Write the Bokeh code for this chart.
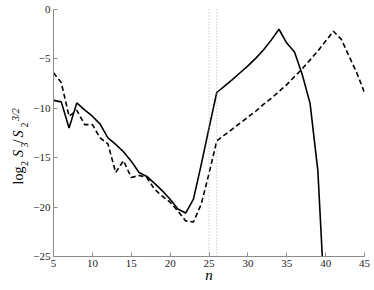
import math
from bokeh.plotting import figure
from bokeh.layouts import row
from bokeh.models import Range1d, Span, FixedTicker
from bokeh.core.properties import value
from bokeh.embed import file_html
from bokeh.resources import INLINE

# ---- data ----
n_solid = list(range(5, 41))
solid = [-9.2, -9.35, -12.0, -9.45, -10.15, -10.8, -11.6, -13.0, -13.65, -14.4,
         -15.35, -16.5, -16.9, -17.6, -18.35, -19.2, -20.2, -20.6, -19.2, -15.7,
         -12.0, -8.4, -7.75, -7.1, -6.4, -5.7, -4.95, -4.1, -3.1, -2.0,
         -3.4, -4.3, -6.6, -9.5, -16.3, -31.5]
n_dashed = list(range(5, 46))
dashed = [-6.4, -7.4, -10.8, -10.2, -11.65, -11.65, -13.0, -13.6, -16.5, -15.3,
          -17.0, -16.8, -17.0, -18.2, -18.9, -19.5, -20.4, -21.4, -21.5, -19.7,
          -16.6, -13.3, -12.7, -12.1, -11.5, -10.9, -10.3, -9.6, -9.0, -8.3,
          -7.6, -6.8, -6.0, -5.1, -4.2, -3.2, -2.2, -3.0, -4.7, -6.4, -8.4]
vlines = [25, 26]
x_ticks = [5, 10, 15, 20, 25, 30, 35, 40, 45]
y_ticks = [0, -5, -10, -15, -20, -25]

SERIF = "Liberation Serif"
W, H = 374, 290
LAB_W = 30

# ---- main plot ----
p = figure(width=W - LAB_W, height=H, output_backend="svg", toolbar_location=None,
           x_range=Range1d(5, 45), y_range=Range1d(-25, 0),
           min_border_left=22, min_border_right=10, min_border_top=9,
           min_border_bottom=34)
p.outline_line_color = None
p.grid.visible = False

for ax in (p.xaxis[0], p.yaxis[0]):
    ax.axis_line_color = "#8a8a8a"
    ax.major_tick_line_color = "#8a8a8a"
    ax.major_tick_in = 4
    ax.major_tick_out = 0
    ax.minor_tick_line_color = None
    ax.major_label_text_font = SERIF
    ax.major_label_text_font_size = "11px"
    ax.major_label_text_color = "#222222"
    ax.major_label_standoff = 3
p.xaxis.ticker = FixedTicker(ticks=x_ticks)
p.yaxis.ticker = FixedTicker(ticks=y_ticks)
p.yaxis.major_label_overrides = {t: ("\u2212" + str(-t) if t < 0 else str(t)) for t in y_ticks}
p.xaxis.axis_label = "n"
p.xaxis.axis_label_text_font = SERIF
p.xaxis.axis_label_text_font_style = "italic"
p.xaxis.axis_label_text_font_size = "15px"
p.xaxis.axis_label_text_color = "black"
p.xaxis.axis_label_standoff = -3

for v in vlines:
    p.add_layout(Span(location=v, dimension="height", line_color="#b0b0b0",
                      line_dash="1 2", line_width=1))

p.line(n_solid, solid, line_color="black", line_width=1.6)
p.line(n_dashed, dashed, line_color="black", line_width=1.6, line_dash="5 3")

# ---- y axis title panel: log_2 S_3 / S_2^{3/2} ----
lab = figure(width=LAB_W, height=H, output_backend="svg", toolbar_location=None,
             x_range=Range1d(0, LAB_W), y_range=p.y_range,
             x_axis_location=None, y_axis_location=None,
             min_border=0)
lab.outline_line_color = None
lab.grid.visible = False

TOP, BOT = 9.0, 256.0   # page y of the frame's top and bottom


def yd(page_y):
    return -25.0 * (page_y - TOP) / (BOT - TOP)


pieces = [
    ("log", 18.3, 184, "14px", "normal"),
    ("2", 24, 165.5, "10px", "normal"),
    ("S", 18.3, 156.5, "14px", "italic"),
    ("3", 24, 147, "10px", "normal"),
    ("/", 18.3, 143, "14px", "normal"),
    ("S", 18.3, 137, "14px", "italic"),
    ("2", 24, 127, "10px", "normal"),
    ("3/2", 15, 120.5, "10px", "italic"),
]
for txt, x, py, size, style in pieces:
    lab.text(x=[x], y=[yd(py)], text=[txt], angle=math.pi / 2,
             text_align="left", text_baseline="alphabetic",
             text_font=value(SERIF), text_font_size=value(size),
             text_font_style=style, text_color="black")

layout = row(lab, p, spacing=0)
open("out.html", "w").write(file_html(layout, INLINE))
